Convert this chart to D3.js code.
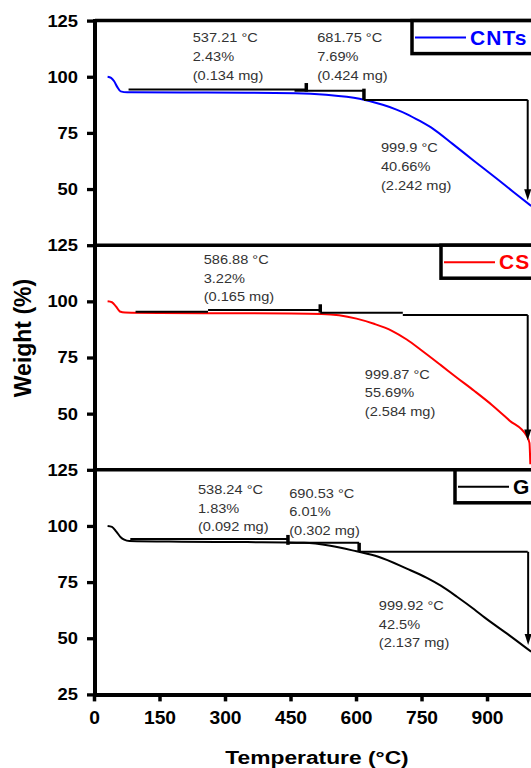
<!DOCTYPE html>
<html>
<head>
<meta charset="utf-8">
<script src="https://d3js.org/d3.v7.min.js"></script>
<style>
  body { margin: 0; background: #fff; }
  svg { display: block; }
  text { font-family: Arial, "Liberation Sans", sans-serif; }
</style>
</head>
<body>
<script>
// TGA curves: temperature (°C) and weight (%)
var cntTemp   = [30, 38, 45, 52, 60, 75, 200, 350, 460, 530, 607, 660, 690, 715, 745, 777, 820, 870, 920, 960, 1000];
var cntWeight = [100, 99.5, 98, 95.5, 93.5, 93.1, 93, 92.9, 92.7, 92, 90.2, 87.5, 85.5, 83.4, 80.3, 76.6, 70.1, 62.4, 54.8, 48.6, 42.5];

var csTemp   = [30, 40, 50, 58, 70, 150, 300, 450, 520, 560, 600, 640, 680, 715, 750, 793, 830, 870, 910, 950, 990, 996, 998];
var csWeight = [100, 99.6, 97.5, 95.5, 95, 94.8, 94.7, 94.6, 94.4, 93.8, 92.3, 90, 87, 83, 78, 71.6, 66, 60.1, 53.9, 47, 40, 37, 27.5];

var gTemp   = [30, 40, 50, 60, 68, 80, 200, 350, 480, 540, 600, 650, 715, 760, 793, 830, 870, 893, 950, 1000];
var gWeight = [100, 99.6, 97.5, 95, 93.9, 93.3, 93, 92.8, 92.5, 91.2, 88.7, 86.3, 81, 77, 73.4, 68.5, 62.8, 59.3, 51.3, 44];

var seriesNames  = ["CNTs", "CS", "G"];
var seriesColors = ["#0000ff", "#ff0000", "#000000"];

var xTicks = [0, 150, 300, 450, 600, 750, 900];
var yTicksTop = [125, 100, 75, 50];
var yTicksBottom = [125, 100, 75, 50, 25];

// step annotations: [start T, end T, level %]
var cntSteps = [[78, 485, 94.3], [458, 617, 93.8], [617, 992, 89.7]];
var csSteps  = [[94, 260, 95.4], [260, 517, 96.1], [517, 706, 94.9], [706, 992, 93.9]];
var gSteps   = [[82, 443, 94.2], [443, 606, 92.5], [606, 992, 88.5]];
// step markers: [T, top %, bottom %]
var cntMarks = [[485, 97.2, 93.4], [617, 94.7, 89.7]];
var csMarks  = [[517, 98.7, 95]];
var gMarks   = [[443, 96, 91.6], [606, 92.5, 88.5]];
// final arrows: [T, from %, to %]
var cntArrow = [992, 89.7, 45];
var csArrow  = [992, 93.9, 38];
var gArrow   = [993, 88.5, 47];

// annotation texts and their anchor [T, %]
var cntNotes = [["537.21 °C", "2.43%", "(0.134 mg)"], ["681.75 °C", "7.69%", "(0.424 mg)"], ["999.9 °C", "40.66%", "(2.242 mg)"]];
var cntNoteAt = [[225, 115.3], [510, 115.3], [656, 66.3]];
var csNotes = [["586.88 °C", "3.22%", "(0.165 mg)"], ["999.87 °C", "55.69%", "(2.584 mg)"]];
var csNoteAt = [[250, 116.5], [619, 65.5]];
var gNotes = [["538.24 °C", "1.83%", "(0.092 mg)"], ["690.53 °C", "6.01%", "(0.302 mg)"], ["999.92 °C", "42.5%", "(2.137 mg)"]];
var gNoteAt = [[237, 114.1], [446, 112.6], [651, 62.6]];

var w = 531, h = 768;
var panelTop = 20.6, panelH = 224.6;
var legendLeft = [412, 441, 455];

var panels = [
  {temp: cntTemp, weight: cntWeight, steps: cntSteps, marks: cntMarks, arrow: cntArrow, notes: cntNotes, noteAt: cntNoteAt, ticks: yTicksTop},
  {temp: csTemp, weight: csWeight, steps: csSteps, marks: csMarks, arrow: csArrow, notes: csNotes, noteAt: csNoteAt, ticks: yTicksTop},
  {temp: gTemp, weight: gWeight, steps: gSteps, marks: gMarks, arrow: gArrow, notes: gNotes, noteAt: gNoteAt, ticks: yTicksBottom}
];

var x = d3.scaleLinear()
    .domain([0, 1050])
    .range([94.5, 94.5 + 1050 * 0.4367]);

var svg = d3.select("body")
    .append("svg")
    .attr("width", w)
    .attr("height", h);

var bottomY = panelTop + 3 * panelH;

panels.forEach(function(p, i) {
    var y = d3.scaleLinear()
        .domain([25, 125])
        .range([panelTop + (i + 1) * panelH, panelTop + i * panelH]);

    var g = svg.append("g");

    // curve
    var line = d3.line()
        .curve(d3.curveMonotoneX)
        .x(function(d, k) { return x(p.temp[k]); })
        .y(function(d, k) { return y(p.weight[k]); });
    g.append("path")
        .datum(p.temp)
        .attr("d", line)
        .attr("fill", "none")
        .attr("stroke", seriesColors[i])
        .attr("stroke-width", 2);

    // step lines
    g.selectAll(".step")
        .data(p.steps)
        .enter()
        .append("line")
        .attr("x1", function(d) { return x(d[0]); })
        .attr("x2", function(d) { return x(d[1]); })
        .attr("y1", function(d) { return y(d[2]); })
        .attr("y2", function(d) { return y(d[2]); })
        .attr("stroke", "#000")
        .attr("stroke-width", 2);

    g.selectAll(".mark")
        .data(p.marks)
        .enter()
        .append("line")
        .attr("x1", function(d) { return x(d[0]); })
        .attr("x2", function(d) { return x(d[0]); })
        .attr("y1", function(d) { return y(d[1]); })
        .attr("y2", function(d) { return y(d[2]); })
        .attr("stroke", "#000")
        .attr("stroke-width", 3.5);

    // arrow down to the residue
    var ax = x(p.arrow[0]), ay1 = y(p.arrow[1]), ay2 = y(p.arrow[2]);
    g.append("line")
        .attr("x1", ax).attr("x2", ax)
        .attr("y1", ay1).attr("y2", ay2 - 8)
        .attr("stroke", "#000")
        .attr("stroke-width", 2);
    g.append("path")
        .attr("d", "M" + (ax - 3.5) + "," + (ay2 - 11) + "L" + (ax + 3.5) + "," + (ay2 - 11) + "L" + ax + "," + ay2 + "Z")
        .attr("fill", "#000");

    // annotation texts
    p.notes.forEach(function(lines, k) {
        var tx = x(p.noteAt[k][0]), ty = y(p.noteAt[k][1]);
        lines.forEach(function(s, j) {
            g.append("text")
                .attr("transform", "translate(" + tx + "," + (ty + j * 18.6) + ") scale(1.08,1)")
                .attr("font-size", 13.5)
                .attr("fill", "#333")
                .text(s);
        });
    });

    // y axis ticks
    var yAxis = g.append("g")
        .attr("transform", "translate(95,0)")
        .call(d3.axisLeft(y).tickValues(p.ticks).tickSize(8).tickSizeOuter(0));
    yAxis.select(".domain").remove();
    yAxis.selectAll("line").attr("stroke-width", 3.3);
    yAxis.selectAll("text")
        .attr("font-size", 17)
        .attr("font-weight", "bold")
        .attr("fill", "#000")
        .attr("font-family", "Arial, 'Liberation Sans', sans-serif")
        .attr("x", -17 / 1.08)
        .attr("transform", "scale(1.08,1)");

    // panel top border
    g.append("line")
        .attr("x1", 95).attr("x2", w + 40)
        .attr("y1", y(125)).attr("y2", y(125))
        .attr("stroke", "#000")
        .attr("stroke-width", 3.5);

    // legend box
    var top = y(125);
    var lx = legendLeft[i];
    g.append("rect")
        .attr("x", lx)
        .attr("y", top)
        .attr("width", 200)
        .attr("height", 33)
        .attr("fill", "#fff")
        .attr("stroke", "#000")
        .attr("stroke-width", 3.5);
    g.append("line")
        .attr("x1", lx + 3).attr("x2", lx + 54)
        .attr("y1", top + 17).attr("y2", top + 17)
        .attr("stroke", seriesColors[i])
        .attr("stroke-width", 2);
    g.append("text")
        .attr("transform", "translate(" + (lx + 58) + "," + (top + 24) + ") scale(1.05,1)")
        .attr("font-size", 20)
        .attr("font-weight", "bold")
        .attr("letter-spacing", 1)
        .attr("fill", seriesColors[i])
        .text(seriesNames[i]);
});

// left axis line
svg.append("line")
    .attr("x1", 95).attr("x2", 95)
    .attr("y1", panelTop - 1.5).attr("y2", bottomY + 1.5)
    .attr("stroke", "#000")
    .attr("stroke-width", 4);

// x axis
var xAxis = svg.append("g")
    .attr("transform", "translate(0," + bottomY + ")")
    .call(d3.axisBottom(x).tickValues(xTicks).tickSize(7).tickSizeOuter(0).tickPadding(10));
xAxis.select(".domain").attr("stroke-width", 4);
xAxis.selectAll("line").attr("stroke-width", 3.5);
xAxis.selectAll("text")
    .attr("font-size", 17.5)
    .attr("font-weight", "bold")
    .attr("fill", "#000")
    .attr("font-family", "Arial, 'Liberation Sans', sans-serif")
    .attr("transform", "scale(1.1,1)");
xAxis.selectAll(".tick")
    .each(function(d) {
        var t = d3.select(this);
        t.attr("transform", null);
        t.select("line").attr("x1", x(d)).attr("x2", x(d));
        t.select("text").attr("x", x(d) / 1.1);
    });

// axis titles
svg.append("text")
    .attr("transform", "translate(317,764) scale(1.2,1)")
    .attr("text-anchor", "middle")
    .attr("font-size", 19)
    .attr("font-weight", "bold")
    .text("Temperature (°C)");

svg.append("text")
    .attr("transform", "translate(31,338) rotate(-90)")
    .attr("text-anchor", "middle")
    .attr("font-size", 23)
    .attr("font-weight", "bold")
    .text("Weight (%)");
</script>
</body>
</html>
